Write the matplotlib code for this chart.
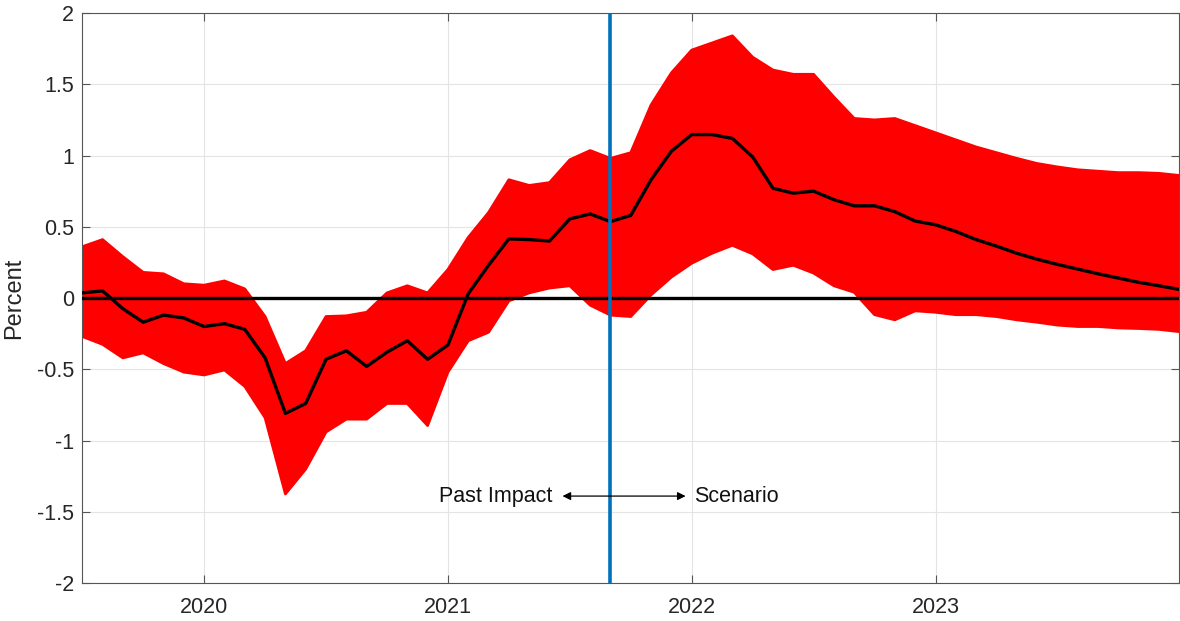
import matplotlib
matplotlib.use("Agg")
import matplotlib.pyplot as plt
import numpy as np

plt.rcParams['font.family'] = ['Liberation Sans', 'DejaVu Sans']
plt.rcParams['axes.unicode_minus'] = False

# Monthly observations, Jul 2019 .. Jan 2024
start_year = 2019
start_month = 7
median = [0.036, 0.05, -0.075, -0.17, -0.12, -0.14,
          -0.20, -0.18, -0.22, -0.42, -0.81, -0.74, -0.43, -0.37, -0.48, -0.38, -0.30, -0.43,
          -0.33, 0.03, 0.23, 0.415, 0.41, 0.40, 0.555, 0.59, 0.536, 0.58, 0.83, 1.03,
          1.147, 1.147, 1.12, 0.99, 0.77, 0.736, 0.75, 0.69, 0.647, 0.647, 0.606, 0.54,
          0.514, 0.467, 0.41, 0.364, 0.314, 0.272, 0.236, 0.203, 0.17, 0.14, 0.11, 0.086,
          0.06]
upper = [0.36, 0.41, 0.29, 0.18, 0.17, 0.10,
         0.09, 0.12, 0.064, -0.13, -0.46, -0.37, -0.13, -0.125, -0.10, 0.036, 0.086, 0.036,
         0.20, 0.425, 0.60, 0.83, 0.79, 0.81, 0.97, 1.035, 0.98, 1.02, 1.355, 1.58,
         1.74, 1.79, 1.84, 1.69, 1.60, 1.57, 1.57, 1.41, 1.26, 1.25, 1.26, 1.21,
         1.16, 1.11, 1.06, 1.02, 0.98, 0.944, 0.92, 0.90, 0.89, 0.88, 0.88, 0.875,
         0.86]
lower = [-0.27, -0.325, -0.42, -0.385, -0.46, -0.52,
         -0.54, -0.505, -0.62, -0.84, -1.375, -1.20, -0.94, -0.85, -0.85, -0.74, -0.74, -0.895,
         -0.52, -0.30, -0.24, -0.02, 0.036, 0.07, 0.086, -0.05, -0.12, -0.13, 0.022, 0.147,
         0.244, 0.314, 0.37, 0.31, 0.20, 0.23, 0.175, 0.086, 0.04, -0.117, -0.153, -0.09,
         -0.10, -0.117, -0.117, -0.13, -0.153, -0.17, -0.19, -0.20, -0.20, -0.21, -0.214, -0.22,
         -0.236]
year_ticks = [2020, 2021, 2022, 2023]
year_labels = ['2020', '2021', '2022', '2023']
y_ticks = [-2, -1.5, -1, -0.5, 0, 0.5, 1, 1.5, 2]
y_labels = ['-2', '-1.5', '-1', '-0.5', '0', '0.5', '1', '1.5', '2']
scenario_start = (2021, 9)
ylabel = 'Percent'
left_text = 'Past Impact'
right_text = 'Scenario'

n = len(median)
x = np.array([start_year + (start_month - 1 + i) / 12 for i in range(n)])
x_split = scenario_start[0] + (scenario_start[1] - 1) / 12

fig = plt.figure(figsize=(11.8, 6.21), dpi=100)
ax = fig.add_axes([0.0697, 0.0612, 0.9297, 0.9178])

red = '#ff0000'
ax.fill_between(x, lower, upper, color=red, lw=0, zorder=2)
ax.plot(x, upper, color=red, lw=2.0, zorder=2)
ax.plot(x, lower, color=red, lw=2.0, zorder=2)
ax.axhline(0, color='black', lw=2.4, zorder=3)
ax.plot(x, median, color='black', lw=2.4, zorder=4)
ax.axvline(x_split, color='#0072BD', lw=2.6, zorder=5)

# annotation
ya = -1.39
ax.annotate('', xy=(2021.47, ya), xytext=(x_split, ya),
            arrowprops=dict(arrowstyle='-|>', color='black', lw=0.9,
                            mutation_scale=12, shrinkA=0, shrinkB=0), zorder=6)
ax.annotate('', xy=(2021.975, ya), xytext=(x_split, ya),
            arrowprops=dict(arrowstyle='-|>', color='black', lw=0.9,
                            mutation_scale=12, shrinkA=0, shrinkB=0), zorder=6)
ax.text(2021.43, ya, left_text, ha='right', va='center', fontsize=15.5, color='#111111', zorder=6)
ax.text(2022.008, ya, right_text, ha='left', va='center', fontsize=15.5, color='#111111', zorder=6)

ax.set_xlim(x[0], x[-1])
ax.set_ylim(-2, 2)
ax.set_xticks(year_ticks)
ax.set_xticklabels(year_labels)
ax.set_yticks(y_ticks)
ax.set_yticklabels(y_labels)
ax.set_ylabel(ylabel, fontsize=17, color='#262626', labelpad=8)

ax.grid(True, color='#e4e4e4', lw=0.8, zorder=0)
ax.set_axisbelow(True)
ax.tick_params(axis='both', direction='in', top=True, right=True, length=6,
               width=0.8, color='#555555', labelsize=15.5, labelcolor='#262626')
ax.tick_params(axis='x', pad=10)
ax.tick_params(axis='y', pad=6)
for s in ax.spines.values():
    s.set_color('#555555')
    s.set_linewidth(0.8)

fig.savefig('out.png', dpi=100)
